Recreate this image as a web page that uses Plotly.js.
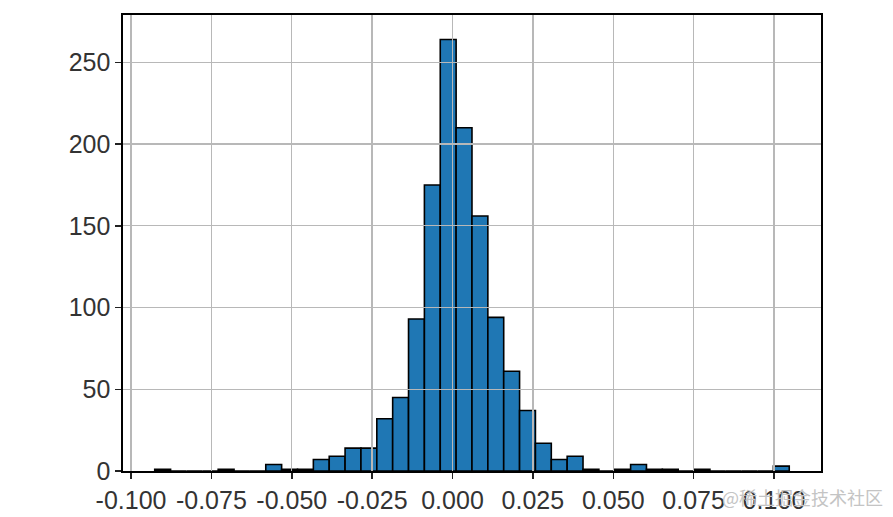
<!DOCTYPE html>
<html>
<head>
<meta charset="utf-8">
<script src="https://cdn.plot.ly/plotly-3.0.1.min.js"></script>
<style>html,body{margin:0;padding:0;background:#fff;}#chart{width:893px;height:517px;}</style>
</head>
<body>
<div id="chart"></div>
<script>
// Histogram of daily returns: 40 equal bins
var binStart = -0.09262;
var binWidth = 0.004934;
var counts = [1, 0, 0, 0, 1, 0, 0, 4, 1, 1,
              7, 9, 14, 14, 32, 45, 93, 175, 264, 210,
              156, 94, 61, 37, 17, 7, 9, 1, 0, 1,
              4, 1, 1, 0, 1, 0, 0, 0, 0, 3];
var xTickVals = [-0.100, -0.075, -0.050, -0.025, 0.000, 0.025, 0.050, 0.075, 0.100];
var xTickText = ["-0.100", "-0.075", "-0.050", "-0.025", "0.000", "0.025", "0.050", "0.075", "0.100"];
var yTickVals = [0, 50, 100, 150, 200, 250];
var yTickText = ["0", "50", "100", "150", "200", "250"];
var watermark = "@稀土掘金技术社区";

var binLeft = counts.map(function (_, i) { return binStart + i * binWidth; });

var xRange = [-0.10249, 0.11462];
var yRange = [0, 279];
var tickFont = {family: "Liberation Sans, Arial, sans-serif", size: 25, color: "#333333"};

var traces = [
  {
    type: "bar",
    x: binLeft,
    y: counts,
    width: binWidth,
    offset: 0,
    marker: {color: "#1f77b4", line: {color: "#000000", width: 1.6}},
    xaxis: "x", yaxis: "y",
    hoverinfo: "x+y"
  },
  {
    type: "scatter", mode: "markers",
    x: [], y: [],
    xaxis: "x2", yaxis: "y2",
    showlegend: false, hoverinfo: "skip"
  }
];

var layout = {
  width: 893, height: 517,
  margin: {l: 123, r: 72, t: 15, b: 46, pad: 0},
  paper_bgcolor: "#ffffff",
  plot_bgcolor: "rgba(0,0,0,0)",
  showlegend: false,
  bargap: 0,
  xaxis: {
    domain: [0, 1], anchor: "y",
    range: xRange, showgrid: false, zeroline: false,
    showline: true, mirror: true, linecolor: "#000000", linewidth: 1.6,
    ticks: "outside", ticklen: 6, tickwidth: 1.5, tickcolor: "#222222",
    tickmode: "array", tickvals: xTickVals, ticktext: xTickText,
    tickfont: tickFont
  },
  yaxis: {
    domain: [0, 1], anchor: "x",
    range: yRange, showgrid: false, zeroline: false,
    showline: true, mirror: true, linecolor: "#000000", linewidth: 1.6,
    ticks: "outside", ticklen: 6, tickwidth: 1.5, tickcolor: "#222222",
    tickmode: "array", tickvals: yTickVals, ticktext: yTickText,
    tickfont: tickFont
  },
  xaxis2: {
    domain: [0, 1], anchor: "y2",
    range: xRange, showgrid: true, gridcolor: "#b8b8b8", gridwidth: 1.3,
    zeroline: false, showline: false, showticklabels: false, ticks: "",
    tickmode: "array", tickvals: xTickVals
  },
  yaxis2: {
    domain: [0, 1], anchor: "x2",
    range: yRange, showgrid: true, gridcolor: "#b8b8b8", gridwidth: 1.3,
    zeroline: false, showline: false, showticklabels: false, ticks: "",
    tickmode: "array", tickvals: yTickVals
  },
  annotations: [{
    text: watermark, xref: "paper", yref: "paper",
    x: 1.092, y: -0.057, xanchor: "right", yanchor: "middle",
    showarrow: false,
    font: {family: "Noto Sans CJK SC, sans-serif", size: 18, color: "#c4c4c4"}
  }]
};

Plotly.newPlot("chart", traces, layout, {staticPlot: true, displayModeBar: false});
</script>
</body>
</html>
